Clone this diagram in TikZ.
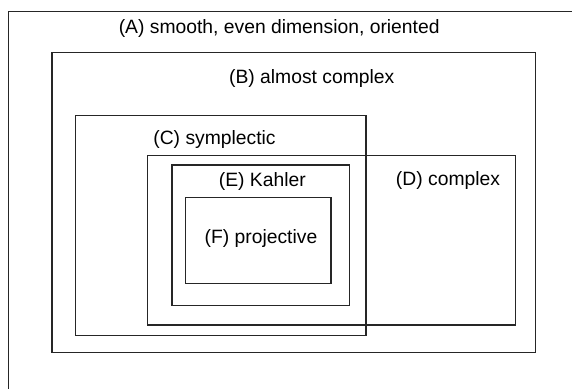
\documentclass[tikz,border=0pt]{standalone}
\usepackage{fontspec}
\setmainfont{Liberation Sans}
\begin{document}
\begin{tikzpicture}[x=1pt,y=-1pt,
  box/.style={draw=black!85, line width=1.1pt, inner sep=0pt},
  lbl/.style={inner sep=0pt, font=\fontsize{19.3}{23}\selectfont}]
\useasboundingbox (0,0) rectangle (572,389);
% (A) outer region, only top and left edges visible
\coordinate (Atr) at (572,11.7);
\coordinate (Atl) at (8.3,11.7);
\coordinate (Abl) at (8.3,389);
\draw[black!85, line width=1.1pt] (Atr) -- (Atl) -- (Abl);
\node[box, minimum width=483.7pt, minimum height=300pt] (B) at (293.85,202.3) {};
\node[box, minimum width=290.3pt, minimum height=220pt] (C) at (220.85,225.3) {};
\node[box, minimum width=368.2pt, minimum height=169.5pt] (D) at (331.6,240.25) {};
\node[box, minimum width=177.3pt, minimum height=140.3pt] (E) at (260.65,235.15) {};
\node[box, minimum width=145.7pt, minimum height=85.6pt] (F) at (258.15,240.5) {};
\node[lbl] (la) at (279.2,28.8) {(A) smooth, even dimension, oriented};
\node[lbl] (lb) at (311.7,78.8) {(B) almost complex};
\node[lbl] (lc) at (214.5,139.5) {(C) symplectic};
\node[lbl] (ld) at (448,180.3) {(D) complex};
\node[lbl] (le) at (262.3,181.2) {(E) Kahler};
\node[lbl] (lf) at (261,239) {(F) projective};
\end{tikzpicture}
\end{document}
